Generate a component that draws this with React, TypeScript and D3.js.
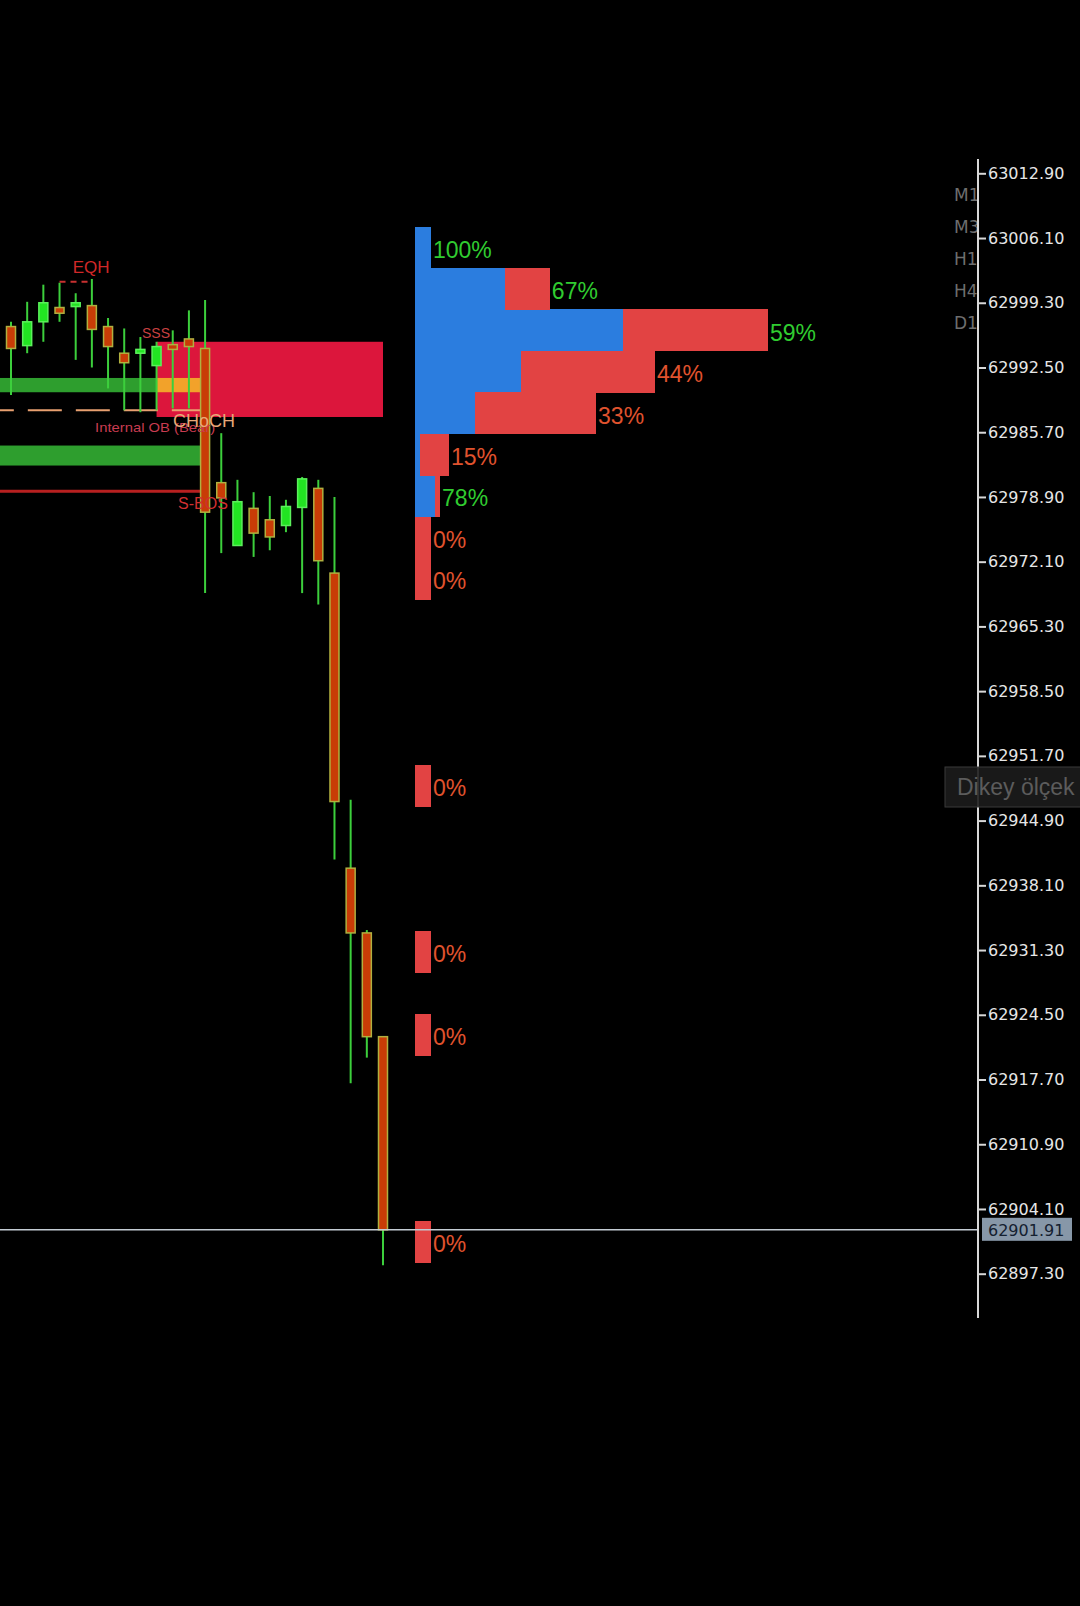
import { useEffect, useRef } from "react";
import * as d3 from "d3";

// candles, oldest first
const opens = [
  62996.8, 62994.8, 62997.3, 62998.8, 62998.9, 62999.0, 62996.8, 62994.0, 62994.0, 62992.7,
  62994.9, 62995.5, 62994.5, 62980.4, 62973.8, 62977.7, 62976.5, 62975.9, 62977.8, 62979.8,
  62970.9, 62939.9, 62933.1, 62922.2,
];
const highs = [
  62997.3, 62999.4, 63001.2, 63001.4, 63000.3, 63001.8, 62997.7, 62996.6, 62995.7, 62995.2,
  62996.4, 62998.5, 62999.6, 62985.6, 62980.7, 62979.4, 62979.0, 62978.6, 62981.0, 62980.7,
  62978.9, 62947.1, 62933.4, 62922.2,
];
const lows = [
  62989.6, 62994.0, 62995.2, 62997.3, 62993.3, 62992.5, 62990.3, 62988.0, 62987.8, 62988.0,
  62988.2, 62988.2, 62968.8, 62973.0, 62973.8, 62972.6, 62973.3, 62975.2, 62968.8, 62967.6,
  62940.8, 62917.3, 62920.0, 62898.2,
];
const closes = [
  62994.5, 62997.3, 62999.3, 62998.2, 62999.3, 62996.5, 62994.7, 62993.0, 62994.4, 62994.7,
  62994.4, 62994.7, 62977.3, 62978.8, 62978.4, 62975.1, 62974.7, 62977.9, 62980.8, 62972.2,
  62946.9, 62933.1, 62922.2, 62901.91,
];

const priceTicks = [
  63012.9, 63006.1, 62999.3, 62992.5, 62985.7, 62978.9, 62972.1, 62965.3, 62958.5,
  62951.7, 62944.9, 62938.1, 62931.3, 62924.5, 62917.7, 62910.9, 62904.1, 62897.3,
];
const lastPrice = 62901.91;

// volume profile, 25 rows from top to bottom
const profileHigh = 63007.3;
const profileLow = 62898.5;
const profileVolume = [
  4.5, 38.2, 100, 68, 51.3, 9.6, 7.1, 4.5, 4.5, 0, 0, 0, 0,
  4.5, 0, 0, 0, 4.5, 0, 4.5, 0, 0, 0, 0, 4.5,
];
const profileBuyPct = [
  100, 67, 59, 44, 33, 15, 78, 0, 0, 0, 0, 0, 0,
  0, 0, 0, 0, 0, 0, 0, 0, 0, 0, 0, 0,
];

const timeframes = ["M15", "M30", "H1", "H4", "D1"];

// zones in candle-index units
const zones = [
  { from: 9, to: 23, top: 62995.2, bottom: 62987.3, kind: "ob" },
  { from: -1, to: 9, top: 62991.4, bottom: 62989.9, kind: "demand" },
  { from: 9, to: 11.7, top: 62991.4, bottom: 62989.9, kind: "overlap" },
  { from: -1, to: 11.7, top: 62984.3, bottom: 62982.2, kind: "demand" },
];
const levels = [
  { from: -1, to: 11.7, price: 62988.0, kind: "eql" },
  { from: -1, to: 11.7, price: 62979.5, kind: "bos" },
  { from: 3.0, to: 4.9, price: 63001.5, kind: "eqh" },
];
const marks = [
  { text: "EQH", i: 4.95, price: 63002.4, kind: "eqh" },
  { text: "SSS", i: 8.1, price: 62995.6, kind: "sss" },
  { text: "Internal OB (Bear)", i: 5.2, price: 62985.7, kind: "iob" },
  { text: "CHoCH", i: 10.02, price: 62986.2, kind: "choch" },
  { text: "S-BOS", i: 10.33, price: 62977.6, kind: "sbos" },
];

const zoneColor = { ob: "#dc163c", demand: "#2e9e2e", overlap: "#f2a22a" };
const levelStyle = {
  eql: { stroke: "#e8a070", width: 2, dash: "34,14", offset: 15 },
  bos: { stroke: "#b82020", width: 3, dash: null, offset: 0 },
  eqh: { stroke: "#c83030", width: 2, dash: "6,5", offset: 0 },
};
const markStyle = {
  eqh: { size: 17, fill: "#d02828", anchor: "middle", len: null },
  sss: { size: 14, fill: "#c84040", anchor: "start", len: null },
  iob: { size: 13, fill: "#c83c50", anchor: "start", len: 120 },
  choch: { size: 18, fill: "#e8a878", anchor: "start", len: null },
  sbos: { size: 16, fill: "#d03030", anchor: "start", len: null },
};

const App = () => {
  const chartRef = useRef(null);

  useEffect(() => {
    document.body.style.margin = "0";
    document.body.style.background = "#000";

    const svg = d3.select(chartRef.current);
    svg.selectAll("*").remove();

    const y = d3.scaleLinear().domain([62897.3, 63012.9]).range([1273.7, 173.3]);
    const x = d3.scaleLinear().domain([0, opens.length - 1]).range([11, 383]);
    const vx = d3.scaleLinear().domain([0, 100]).range([415, 768]);
    const axisX = 978;

    svg.append("rect").attr("width", 1080).attr("height", 1606).attr("fill", "#000");

    // zones
    svg.append("g")
      .selectAll("rect")
      .data(zones)
      .join("rect")
      .attr("x", (d) => x(d.from))
      .attr("width", (d) => x(d.to) - x(d.from))
      .attr("y", (d) => y(d.top))
      .attr("height", (d) => y(d.bottom) - y(d.top))
      .attr("fill", (d) => zoneColor[d.kind]);

    svg.append("g")
      .selectAll("line")
      .data(levels)
      .join("line")
      .attr("x1", (d) => x(d.from))
      .attr("x2", (d) => x(d.to))
      .attr("y1", (d) => y(d.price))
      .attr("y2", (d) => y(d.price))
      .attr("stroke", (d) => levelStyle[d.kind].stroke)
      .attr("stroke-width", (d) => levelStyle[d.kind].width)
      .attr("stroke-dasharray", (d) => levelStyle[d.kind].dash)
      .attr("stroke-dashoffset", (d) => levelStyle[d.kind].offset);

    // candles
    const candles = opens.map((o, i) => ({ i, o, h: highs[i], l: lows[i], c: closes[i] }));
    const cg = svg.append("g");
    cg.selectAll("line")
      .data(candles)
      .join("line")
      .attr("x1", (d) => x(d.i))
      .attr("x2", (d) => x(d.i))
      .attr("y1", (d) => y(d.h))
      .attr("y2", (d) => y(d.l))
      .attr("stroke", "#3ccf3c")
      .attr("stroke-width", 2);
    cg.selectAll("rect")
      .data(candles)
      .join("rect")
      .attr("x", (d) => x(d.i) - 4.5)
      .attr("width", 9)
      .attr("y", (d) => y(Math.max(d.o, d.c)))
      .attr("height", (d) => Math.max(2, Math.abs(y(d.o) - y(d.c))))
      .attr("fill", (d) => (d.c >= d.o ? "#22e422" : "#c83c06"))
      .attr("stroke", (d) => (d.c >= d.o ? "#5cf05c" : "#b0b040"))
      .attr("stroke-width", 1.5);

    // annotations
    svg.append("g")
      .selectAll("text")
      .data(marks)
      .join("text")
      .attr("x", (d) => x(d.i))
      .attr("y", (d) => y(d.price))
      .attr("text-anchor", (d) => markStyle[d.kind].anchor)
      .attr("font-family", "Liberation Sans, Arial, sans-serif")
      .attr("font-size", (d) => markStyle[d.kind].size)
      .attr("fill", (d) => markStyle[d.kind].fill)
      .attr("textLength", (d) => markStyle[d.kind].len)
      .attr("lengthAdjust", "spacingAndGlyphs")
      .text((d) => d.text);

    // volume profile
    const binH = (profileHigh - profileLow) / profileVolume.length;
    const bins = profileVolume
      .map((v, k) => ({
        k,
        v,
        pct: profileBuyPct[k],
        top: y(profileHigh - k * binH),
        bottom: y(profileHigh - (k + 1) * binH),
      }))
      .filter((d) => d.v > 0);
    const pg = svg.append("g").attr("shape-rendering", "crispEdges");
    pg.selectAll(".buy")
      .data(bins)
      .join("rect")
      .attr("class", "buy")
      .attr("x", vx(0))
      .attr("y", (d) => d.top)
      .attr("width", (d) => vx((d.v * d.pct) / 100) - vx(0))
      .attr("height", (d) => d.bottom - d.top + 0.5)
      .attr("fill", "#2b7ddf");
    pg.selectAll(".sell")
      .data(bins)
      .join("rect")
      .attr("class", "sell")
      .attr("x", (d) => vx((d.v * d.pct) / 100))
      .attr("y", (d) => d.top)
      .attr("width", (d) => vx(d.v) - vx((d.v * d.pct) / 100))
      .attr("height", (d) => d.bottom - d.top + 0.5)
      .attr("fill", "#e24343");
    pg.selectAll("text")
      .data(bins)
      .join("text")
      .attr("x", (d) => vx(d.v) + 2)
      .attr("y", (d) => (d.top + d.bottom) / 2 + 10.5)
      .attr("font-family", "Liberation Sans, Arial, sans-serif")
      .attr("font-size", 23)
      .attr("fill", (d) => (d.pct >= 50 ? "#30cc30" : "#e0532e"))
      .text((d) => `${d.pct}%`);

    // current price line
    svg.append("line")
      .attr("x1", 0)
      .attr("x2", axisX)
      .attr("y1", y(lastPrice))
      .attr("y2", y(lastPrice))
      .attr("stroke", "#c4ccd4")
      .attr("stroke-width", 1.5);

    // timeframe labels, clipped by the scale
    svg.append("clipPath")
      .attr("id", "tfclip")
      .append("rect")
      .attr("x", 0)
      .attr("y", 0)
      .attr("width", axisX - 1)
      .attr("height", 1606);
    svg.append("g")
      .attr("clip-path", "url(#tfclip)")
      .selectAll("text")
      .data(timeframes)
      .join("text")
      .attr("x", 954)
      .attr("y", (d, i) => 201 + i * 32)
      .attr("font-family", "DejaVu Sans, sans-serif")
      .attr("font-size", 17)
      .attr("fill", "#6e6e6e")
      .text((d) => d);

    // price scale
    svg.append("line")
      .attr("x1", axisX)
      .attr("x2", axisX)
      .attr("y1", 159)
      .attr("y2", 1318)
      .attr("stroke", "#d8d8d8")
      .attr("stroke-width", 2);
    const axis = svg.append("g")
      .attr("transform", `translate(${axisX},0)`)
      .call(
        d3.axisRight(y)
          .tickValues(priceTicks)
          .tickSize(8)
          .tickSizeOuter(0)
          .tickFormat(d3.format(".2f"))
      );
    axis.select(".domain").remove();
    axis.selectAll("line").attr("stroke", "#d8d8d8").attr("stroke-width", 2);
    axis.selectAll("text")
      .attr("x", 10)
      .attr("fill", "#e6e6e6")
      .attr("font-family", "DejaVu Sans, sans-serif")
      .attr("font-size", 16);

    // last price tag
    svg.append("rect")
      .attr("x", axisX + 4)
      .attr("y", y(lastPrice) - 12)
      .attr("width", 90)
      .attr("height", 23)
      .attr("fill", "#8797a8");
    svg.append("text")
      .attr("x", axisX + 10)
      .attr("y", y(lastPrice) + 6)
      .attr("font-family", "DejaVu Sans, sans-serif")
      .attr("font-size", 16)
      .attr("fill", "#142030")
      .text(d3.format(".2f")(lastPrice));

    // tooltip
    svg.append("rect")
      .attr("x", 945)
      .attr("y", 767)
      .attr("width", 140)
      .attr("height", 40)
      .attr("fill", "#1c1c1c")
      .attr("fill-opacity", 0.9)
      .attr("stroke", "#3a3a3a");
    svg.append("text")
      .attr("x", 957)
      .attr("y", 795)
      .attr("font-family", "Liberation Sans, Arial, sans-serif")
      .attr("font-size", 23)
      .attr("fill", "#5c5c5c")
      .text("Dikey ölçek");
  }, []);

  return <svg ref={chartRef} width={1080} height={1606} style={{ display: "block" }}></svg>;
};

export default App;
